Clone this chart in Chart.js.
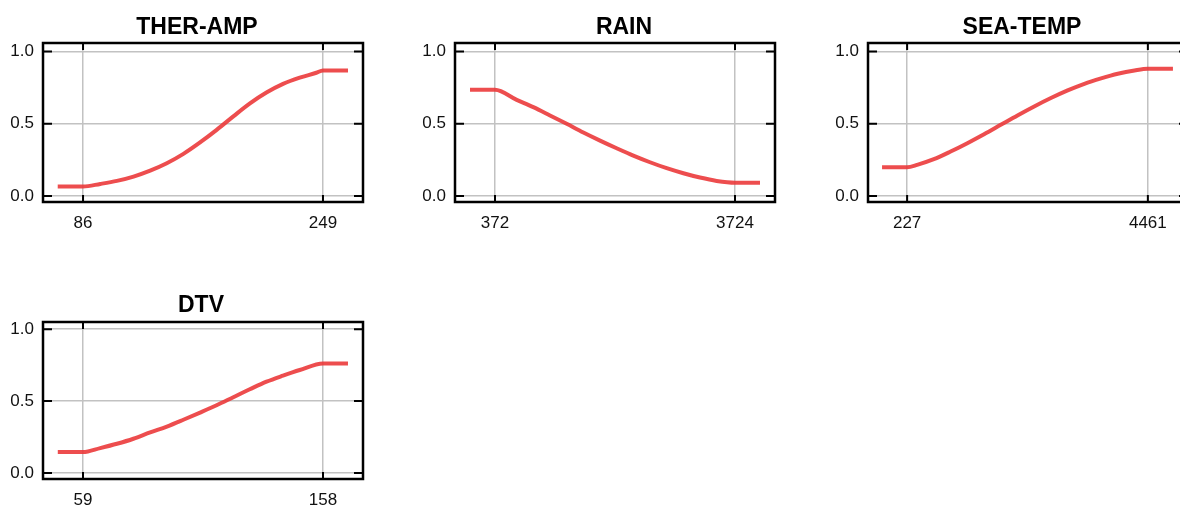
<!DOCTYPE html>
<html>
<head>
<meta charset="utf-8">
<script src="https://cdn.jsdelivr.net/npm/chart.js@4.4.0/dist/chart.umd.min.js"></script>
<style>
  html, body { margin: 0; padding: 0; background: #fff; overflow: hidden; }
  #page { position: relative; width: 1180px; height: 510px; overflow: hidden; }
  .panel { position: absolute; }
  .title {
    position: absolute;
    transform: translateX(-50%);
    font: bold 23px 'Liberation Sans', Arial, sans-serif;
    line-height: 27px;
    color: #000;
    white-space: nowrap;
  }
</style>
</head>
<body>
<div id="page">
  <div class="panel" id="p0"><canvas id="c0"></canvas></div>
  <div class="panel" id="p1"><canvas id="c1"></canvas></div>
  <div class="panel" id="p2"><canvas id="c2"></canvas></div>
  <div class="panel" id="p3"><canvas id="c3"></canvas></div>
  <div class="title" id="t0"></div>
  <div class="title" id="t1"></div>
  <div class="title" id="t2"></div>
  <div class="title" id="t3"></div>
</div>
<script>
// Données
var panelTitles = ["THER-AMP", "RAIN", "SEA-TEMP", "DTV"];
var yTickValues = [0, 0.5, 1.0];

var therAmpTicks = [86, 249];
var therAmpX = [68.8, 86, 97.7, 109, 120.3, 131.6, 142.9, 154.2, 165.5, 176.8, 188.1, 199.4, 210.6, 221.9, 233.2, 244.5, 249, 266];
var therAmpY = [0.065, 0.065, 0.083, 0.104, 0.134, 0.175, 0.226, 0.291, 0.37, 0.457, 0.55, 0.64, 0.715, 0.775, 0.818, 0.852, 0.868, 0.868];

var rainTicks = [372, 3724];
var rainX = [23, 372, 675, 907, 1140, 1373, 1606, 1839, 2071, 2304, 2537, 2770, 3003, 3235, 3468, 3724, 4073];
var rainY = [0.734, 0.734, 0.665, 0.614, 0.557, 0.499, 0.439, 0.383, 0.33, 0.279, 0.233, 0.192, 0.157, 0.127, 0.104, 0.092, 0.092];

var seaTempTicks = [227, 4461];
var seaTempX = [-214, 227, 403, 697, 992, 1286, 1580, 1874, 2168, 2462, 2756, 3050, 3344, 3638, 3932, 4226, 4461, 4902];
var seaTempY = [0.199, 0.199, 0.215, 0.254, 0.307, 0.365, 0.427, 0.492, 0.557, 0.619, 0.677, 0.73, 0.776, 0.813, 0.845, 0.868, 0.88, 0.88];

var dtvTicks = [59, 158];
var dtvX = [48.6, 59, 66.1, 73, 79.8, 86.7, 93.6, 100.4, 107.3, 114.1, 121, 127.8, 134.7, 141.5, 148.4, 158, 168.3];
var dtvY = [0.145, 0.145, 0.173, 0.203, 0.238, 0.282, 0.323, 0.37, 0.42, 0.471, 0.527, 0.582, 0.635, 0.677, 0.716, 0.762, 0.762];

var seriesX = [therAmpX, rainX, seaTempX, dtvX];
var seriesY = [therAmpY, rainY, seaTempY, dtvY];
var seriesTicks = [therAmpTicks, rainTicks, seaTempTicks, dtvTicks];

// Placement des panneaux (pixels) et bornes des axes
var layouts = [
  { left: 0,   top: 0,   w: 394, h: 240, yw: 43, padTop: 43, padRight: 31, xh: 38, tx: 197,  ty: 13,  xMin: 58.8,  xMax: 276.2,  yMin: -0.042, yMax: 1.058 },
  { left: 415, top: 0,   w: 416, h: 240, yw: 40, padTop: 43, padRight: 56, xh: 38, tx: 624,  ty: 13,  xMin: -186.7, xMax: 4282.7, yMin: -0.042, yMax: 1.058 },
  { left: 828, top: 0,   w: 388, h: 240, yw: 40, padTop: 43, padRight: 28, xh: 38, tx: 1022, ty: 13,  xMin: -461,  xMax: 5167,   yMin: -0.042, yMax: 1.058 },
  { left: 0,   top: 280, w: 406, h: 230, yw: 43, padTop: 42, padRight: 43, xh: 31, tx: 201,  ty: 291, xMin: 42.5,  xMax: 174.5,  yMin: -0.042, yMax: 1.05 }
];

var FONT = "'Liberation Sans', Arial, sans-serif";

// Cadre noir + petites graduations vers l'intérieur
var frameTicks = {
  id: "frameTicks",
  afterDraw: function (chart) {
    var ctx = chart.ctx;
    var a = chart.chartArea;
    var xs = chart.scales.x, ys = chart.scales.y;
    ctx.save();
    ctx.strokeStyle = "#000";
    ctx.lineWidth = 2.5;
    ctx.strokeRect(a.left, a.top, a.right - a.left, a.bottom - a.top);
    ctx.lineWidth = 2;
    ctx.beginPath();
    yTickValues.forEach(function (v) {
      var py = ys.getPixelForValue(v);
      ctx.moveTo(a.left, py); ctx.lineTo(a.left + 9, py);
      ctx.moveTo(a.right, py); ctx.lineTo(a.right - 9, py);
    });
    chart.options.plugins.frameTicks.xValues.forEach(function (v) {
      var px = xs.getPixelForValue(v);
      ctx.moveTo(px, a.bottom); ctx.lineTo(px, a.bottom - 7);
      ctx.moveTo(px, a.top); ctx.lineTo(px, a.top + 7);
    });
    ctx.stroke();
    ctx.restore();
  }
};

function createPanel(i) {
  var L = layouts[i];
  var box = document.getElementById("p" + i);
  box.style.left = L.left + "px";
  box.style.top = L.top + "px";
  box.style.width = L.w + "px";
  box.style.height = L.h + "px";

  var title = document.getElementById("t" + i);
  title.textContent = panelTitles[i];
  title.style.left = L.tx + "px";
  title.style.top = L.ty + "px";

  var points = seriesX[i].map(function (x, k) { return { x: x, y: seriesY[i][k] }; });
  var xt = seriesTicks[i];

  new Chart(document.getElementById("c" + i), {
    type: "line",
    data: {
      datasets: [{
        data: points,
        borderColor: "rgba(234, 52, 54, 0.88)",
        borderWidth: 4,
        pointRadius: 0,
        cubicInterpolationMode: "monotone",
        fill: false
      }]
    },
    plugins: [frameTicks],
    options: {
      responsive: true,
      maintainAspectRatio: false,
      animation: false,
      layout: { padding: { left: 0, right: L.padRight, top: L.padTop, bottom: 0 } },
      plugins: {
        legend: { display: false },
        tooltip: { enabled: false },
        title: { display: false },
        frameTicks: { xValues: xt }
      },
      scales: {
        x: {
          type: "linear",
          min: L.xMin,
          max: L.xMax,
          afterBuildTicks: function (s) { s.ticks = xt.map(function (v) { return { value: v }; }); },
          afterFit: function (s) { s.height = L.xh; },
          ticks: { color: "#111", font: { family: FONT, size: 17 }, padding: 11, autoSkip: false, maxRotation: 0,
                   callback: function (v) { return String(v); } },
          grid: { color: "#c2c2c2", lineWidth: 1.5, drawTicks: false },
          border: { display: false }
        },
        y: {
          min: L.yMin,
          max: L.yMax,
          afterBuildTicks: function (s) { s.ticks = yTickValues.map(function (v) { return { value: v }; }); },
          afterFit: function (s) { s.width = L.yw; },
          ticks: { color: "#111", font: { family: FONT, size: 17 }, padding: 9,
                   callback: function (v) { return v.toFixed(1); } },
          grid: { color: "#c2c2c2", lineWidth: 1.5, drawTicks: false },
          border: { display: false }
        }
      }
    }
  });
}

for (var i = 0; i < 4; i++) {
  createPanel(i);
}
</script>
</body>
</html>
